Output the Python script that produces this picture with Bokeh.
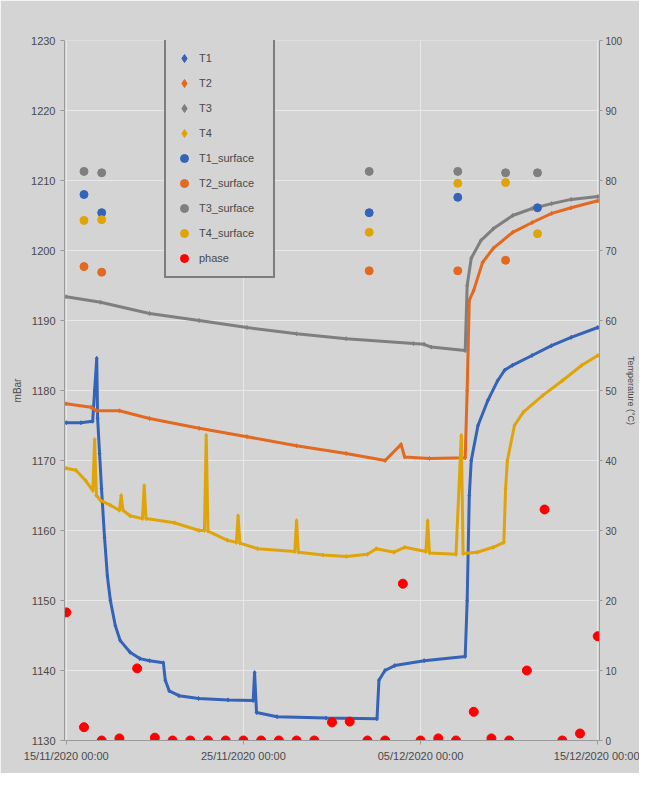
import pandas as pd
from bokeh.plotting import figure
from bokeh.models import (Range1d, LinearAxis, FixedTicker, DatetimeTickFormatter,
                          Legend, LegendItem)
from bokeh.embed import file_html
from bokeh.resources import INLINE

# ---------------- data (x = days after 15/11/2020 00:00) ----------------
START = "2020-11-15 00:00"
tick_dates = ["2020-11-15", "2020-11-25", "2020-12-05", "2020-12-15"]
left_ticks = [1130, 1140, 1150, 1160, 1170, 1180, 1190, 1200, 1210, 1220, 1230]
right_ticks = [0, 10, 20, 30, 40, 50, 60, 70, 80, 90, 100]

t1_day = [0.0, 0.83, 1.49, 1.60, 1.72, 1.77, 1.88, 1.99, 2.16, 2.32, 2.49, 2.77, 3.04, 3.60,
          4.15, 4.70, 5.48, 5.59, 5.81, 6.36, 7.47, 9.13, 10.55, 10.63, 10.74, 11.90, 14.67,
          17.54, 17.65, 17.99, 18.54, 20.20, 22.52, 22.63, 22.75, 22.86, 23.24, 23.80, 24.35,
          24.74, 25.18, 26.29, 27.39, 28.50, 30.0]
t1_val = [45.4, 45.4, 45.6, 50.0, 54.6, 46.0, 41.0, 36.0, 29.0, 23.5, 20.0, 16.4, 14.3, 12.6,
          11.7, 11.4, 11.1, 8.6, 7.1, 6.4, 6.0, 5.8, 5.7, 9.7, 4.0, 3.4, 3.2,
          3.1, 8.6, 10.0, 10.7, 11.4, 12.0, 20.0, 35.0, 40.0, 45.0, 48.6, 51.4,
          52.9, 53.6, 55.0, 56.4, 57.6, 59.0]

t2_day = [0.0, 1.4, 1.7, 3.0, 4.7, 7.5, 10.2, 13.0, 15.8, 18.0, 18.9, 19.1, 20.5, 22.52,
          22.63, 22.75, 23.0, 23.5, 24.1, 25.2, 26.3, 27.4, 28.5, 30.0]
t2_val = [48.1, 47.6, 47.1, 47.1, 46.0, 44.6, 43.4, 42.1, 41.0, 40.0, 42.3, 40.5, 40.3, 40.4,
          50.0, 62.9, 64.3, 68.3, 70.3, 72.6, 74.0, 75.3, 76.1, 77.1]

t3_day = [0.0, 1.94, 4.7, 7.5, 10.2, 13.0, 15.8, 19.6, 20.2, 20.6, 22.52, 22.63, 22.86,
          23.4, 24.1, 25.2, 26.3, 27.4, 28.5, 30.0]
t3_val = [63.4, 62.6, 61.0, 60.0, 59.0, 58.1, 57.4, 56.7, 56.6, 56.2, 55.7, 65.0, 68.9,
          71.4, 73.1, 75.0, 76.0, 76.7, 77.3, 77.7]

t4_day = [0.0, 0.55, 1.1, 1.5, 1.6, 1.7, 1.94, 2.5, 3.0, 3.1, 3.2, 3.6, 4.3, 4.4, 4.5, 6.1,
          7.5, 7.8, 7.9, 8.0, 9.1, 9.6, 9.7, 9.8, 10.8, 12.9, 13.0, 13.1, 14.5, 15.8, 17.0,
          17.5, 18.5, 19.1, 20.3, 20.4, 20.5, 22.0, 22.3, 22.4, 23.2, 24.1, 24.7, 24.8, 24.9,
          25.3, 25.8, 26.9, 28.0, 29.1, 30.0]
t4_val = [38.9, 38.6, 37.1, 35.7, 43.0, 35.0, 34.3, 33.6, 32.9, 35.0, 32.9, 32.1, 31.7, 36.4,
          31.7, 31.1, 30.0, 30.0, 43.6, 29.9, 28.6, 28.3, 32.1, 28.2, 27.4, 27.0, 31.4, 26.9,
          26.5, 26.3, 26.6, 27.4, 26.9, 27.6, 27.0, 31.4, 26.8, 26.6, 43.6, 26.7, 26.9, 27.6,
          28.3, 36.0, 40.0, 45.0, 46.9, 49.3, 51.4, 53.6, 55.0]

s1_day = [1.0, 2.0, 17.1, 22.1, 26.6]
s1_val = [78.0, 75.4, 75.4, 77.6, 76.1]
s2_day = [1.0, 2.0, 17.1, 22.1, 24.8]
s2_val = [67.7, 66.9, 67.1, 67.1, 68.6]
s3_day = [1.0, 2.0, 17.1, 22.1, 24.8, 26.6]
s3_val = [81.3, 81.1, 81.3, 81.3, 81.1, 81.1]
s4_day = [1.0, 2.0, 17.1, 22.1, 24.8, 26.6]
s4_val = [74.3, 74.4, 72.6, 79.6, 79.7, 72.4]

phase_day = list(range(31))
phase_val = [18.3, 1.9, 0.0, 0.3, 10.3, 0.4, 0.0, 0.0, 0.0, 0.0, 0.0, 0.0, 0.0, 0.0, 0.0,
             2.6, 2.7, 0.0, 0.0, 22.4, 0.0, 0.3, 0.0, 4.1, 0.3, 0.0, 10.0, 33.0, 0.0, 1.0, 14.9]

# ---------------- helpers ----------------
t0 = pd.Timestamp(START)


def dt(days):
    return [t0 + pd.Timedelta(days=d) for d in days]


BG = "#d4d4d4"
C1, C2, C3, C4 = "#3463b8", "#e2691f", "#7f7f7f", "#dfa40a"
FONT = "Liberation Sans"
TXT = "#4a4a4a"

p = figure(width=639, height=773, x_axis_type="datetime", output_backend="svg",
           toolbar_location=None,
           x_range=Range1d(t0 - pd.Timedelta(days=0.1), t0 + pd.Timedelta(days=30.1)),
           y_range=Range1d(1130, 1230),
           min_border_left=64, min_border_right=34, min_border_top=40, min_border_bottom=33)
p.background_fill_color = BG
p.border_fill_color = BG
p.outline_line_color = None
p.extra_y_ranges = {"temp": Range1d(0, 100)}

tick_ms = [pd.Timestamp(t).value // 10**6 for t in tick_dates]
p.xaxis.ticker = FixedTicker(ticks=tick_ms)
fmt = "%d/%m/%Y %H:%M"
p.xaxis.formatter = DatetimeTickFormatter(microseconds=fmt, milliseconds=fmt, seconds=fmt,
                                          minsec=fmt, minutes=fmt, hourmin=fmt, hours=fmt,
                                          days=fmt, months=fmt, years=fmt)
p.yaxis.ticker = FixedTicker(ticks=left_ticks)
p.yaxis.axis_label = "mBar"

raxis = LinearAxis(y_range_name="temp", ticker=FixedTicker(ticks=right_ticks),
                   axis_label="Temperature (°C)")
p.add_layout(raxis, "right")

for ax in [p.xaxis[0], p.yaxis[0], raxis]:
    ax.axis_line_color = "#9a9a9a"
    ax.major_tick_line_color = "#9a9a9a"
    ax.major_tick_out = 4
    ax.major_tick_in = 0
    ax.minor_tick_line_color = None
    ax.major_label_text_font = FONT
    ax.major_label_text_font_size = "11px"
    ax.major_label_text_color = TXT
    ax.axis_label_text_font = FONT
    ax.axis_label_text_font_size = "10px"
    ax.axis_label_text_font_style = "normal"
    ax.axis_label_text_color = TXT
raxis.major_tick_out = 3
raxis.major_label_text_font_size = "10px"
raxis.axis_label_standoff = 1
raxis.major_label_standoff = 3
raxis.axis_label_text_font_size = "9px"

p.xgrid.ticker = FixedTicker(ticks=tick_ms)
p.ygrid.ticker = FixedTicker(ticks=left_ticks)
p.grid.grid_line_color = "#e8e8e8"
p.grid.grid_line_width = 1

items = []
for d, v, c, name in [(t1_day, t1_val, C1, "T1"), (t2_day, t2_val, C2, "T2"),
                      (t3_day, t3_val, C3, "T3"), (t4_day, t4_val, C4, "T4")]:
    p.line(dt(d), v, y_range_name="temp", line_color=c, line_width=3)
    r = p.scatter(dt(d), v, y_range_name="temp", marker="diamond", size=4,
                  fill_color=c, line_color=c)
    items.append(LegendItem(label=name, renderers=[r]))

for d, v, c, name in [(s1_day, s1_val, C1, "T1_surface"), (s2_day, s2_val, C2, "T2_surface"),
                      (s3_day, s3_val, C3, "T3_surface"), (s4_day, s4_val, C4, "T4_surface")]:
    r = p.scatter(dt(d), v, y_range_name="temp", marker="circle", size=8,
                  fill_color=c, line_color=c)
    items.append(LegendItem(label=name, renderers=[r]))

r = p.scatter(dt(phase_day), phase_val, y_range_name="temp", marker="circle", size=9,
              fill_color="#ff0000", line_color="#ff0000")
items.append(LegendItem(label="phase", renderers=[r]))

legend = Legend(items=items, location=(100, 462), padding=8, spacing=5,
                glyph_height=20, glyph_width=20, label_height=20, label_standoff=5,
                label_width=66, margin=0,
                border_line_color="#262626", border_line_width=2,
                background_fill_color=BG, background_fill_alpha=1.0,
                label_text_font=FONT, label_text_font_size="11px", label_text_color=TXT)
p.add_layout(legend, "center")

open("out.html", "w").write(file_html(p, INLINE))
